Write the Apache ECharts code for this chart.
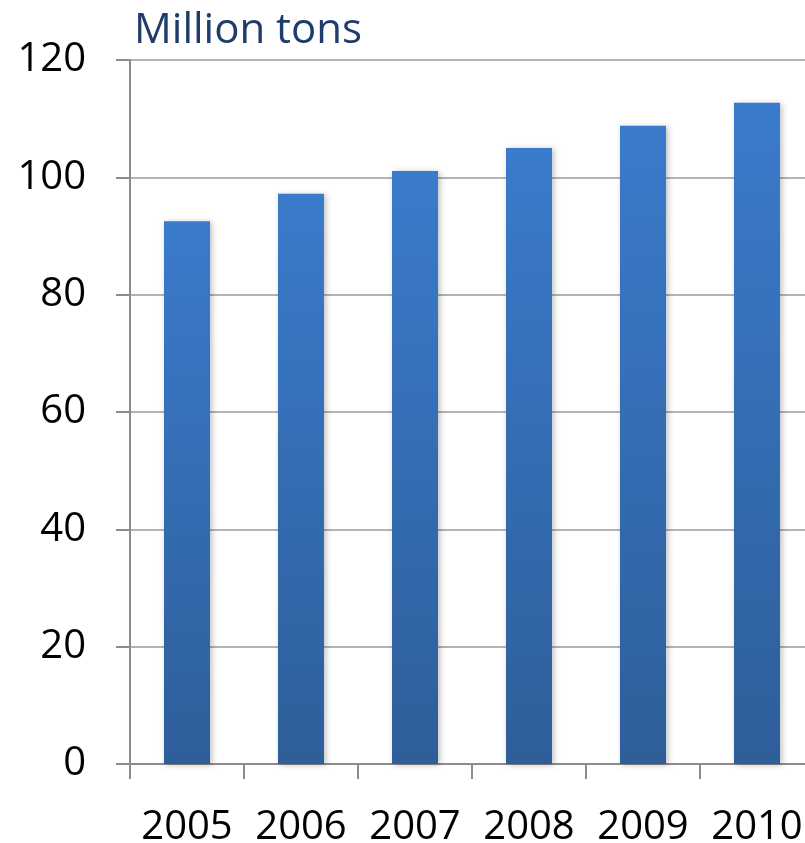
<!DOCTYPE html>
<html>
<head>
<meta charset="utf-8">
<script src="https://cdn.jsdelivr.net/npm/echarts@6/dist/echarts.min.js"></script>
<style>
  html, body { margin: 0; padding: 0; background: #fff; }
  #main { width: 805px; height: 843px; }
</style>
</head>
<body>
<div id="main"></div>
<script>
const years = ['2005', '2006', '2007', '2008', '2009', '2010'];
const production = [92.5, 97.2, 101.1, 105.0, 108.8, 112.7];
const yTicks = [0, 20, 40, 60, 80, 100, 120];

const chartDom = document.getElementById('main');
const myChart = echarts.init(chartDom);

const font = '"Open Sans", "Noto Sans", sans-serif';

const option = {
  animation: false,
  title: {
    text: 'Million tons',
    left: 129,
    top: 5,
    textStyle: { fontFamily: font, fontSize: 42, fontWeight: 'normal', color: '#1f3d6b' }
  },
  grid: {
    left: 130, top: 60, width: 684, height: 704,
    containLabel: false,
    outerBoundsMode: 'none'
  },
  xAxis: {
    type: 'category',
    data: years,
    axisLine: { lineStyle: { color: '#8c8c8c', width: 2 } },
    axisTick: { show: true, interval: 0, length: 15, lineStyle: { color: '#8c8c8c', width: 2 } },
    axisLabel: { interval: 0, fontFamily: font, fontSize: 40, color: '#000', margin: 44 }
  },
  yAxis: {
    type: 'value',
    min: yTicks[0],
    max: yTicks[yTicks.length - 1],
    interval: 20,
    axisLine: { show: true, lineStyle: { color: '#8c8c8c', width: 2 } },
    axisTick: { show: true, length: 14, lineStyle: { color: '#8c8c8c', width: 2 } },
    splitLine: { lineStyle: { color: '#b3b3b3', width: 2 } },
    axisLabel: { fontFamily: font, fontSize: 40, color: '#000', margin: 44 }
  },
  series: [
    {
      type: 'bar',
      data: production,
      barWidth: 46,
      itemStyle: {
        color: new echarts.graphic.LinearGradient(0, 0, 0, 1, [
          { offset: 0, color: '#3a7bcb' },
          { offset: 1, color: '#2e5e9a' }
        ]),
        shadowBlur: 6,
        shadowColor: 'rgba(0,0,0,0.25)',
        shadowOffsetX: 2,
        shadowOffsetY: 1
      }
    }
  ]
};

myChart.setOption(option);
</script>
</body>
</html>
